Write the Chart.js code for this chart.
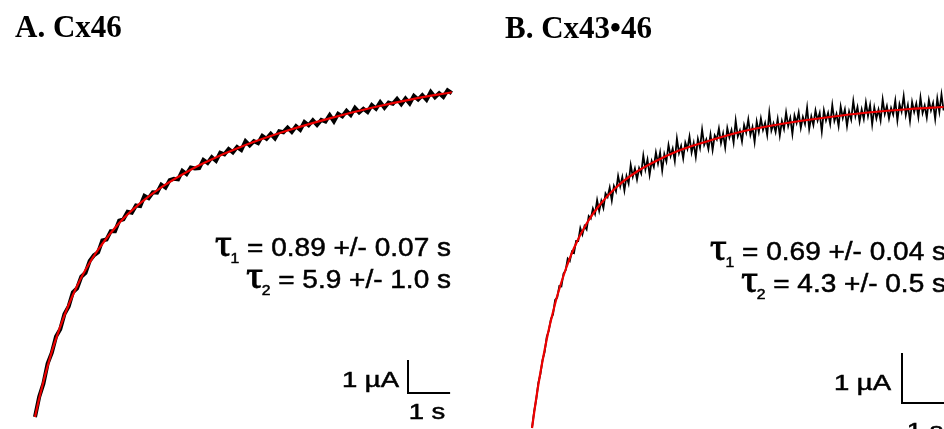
<!DOCTYPE html>
<html>
<head>
<meta charset="utf-8">
<script src="https://cdn.jsdelivr.net/npm/chart.js@4.4.0/dist/chart.umd.min.js"></script>
<style>
    html, body { margin: 0; padding: 0; background: #fff; }
    #wrap { position: relative; width: 944px; height: 429px; overflow: hidden; }
    .panel { position: absolute; top: 0; width: 472px; height: 429px; }
    #panelA { left: 0; }
    #panelB { left: 472px; }
</style>
</head>
<body>
<div id="wrap">
    <div class="panel" id="panelA"><canvas id="chartA"></canvas></div>
    <div class="panel" id="panelB"><canvas id="chartB"></canvas></div>
</div>
<script>
// Panel A (Cx46): recorded current (µA) vs time (s)
const timeA = [0, 0.1, 0.2, 0.3, 0.4, 0.5, 0.6, 0.7, 0.8, 0.9,
    1, 1.1, 1.2, 1.3, 1.4, 1.5, 1.6, 1.7, 1.8, 1.9,
    2, 2.1, 2.2, 2.3, 2.4, 2.5, 2.6, 2.7, 2.8, 2.9,
    3, 3.1, 3.2, 3.3, 3.4, 3.5, 3.6, 3.7, 3.8, 3.9,
    4, 4.1, 4.2, 4.3, 4.4, 4.5, 4.6, 4.7, 4.8, 4.9,
    5, 5.1, 5.2, 5.3, 5.4, 5.5, 5.6, 5.7, 5.8, 5.9,
    6, 6.1, 6.2, 6.3, 6.4, 6.5, 6.6, 6.7, 6.8, 6.9,
    7, 7.1, 7.2, 7.3, 7.4, 7.5, 7.6, 7.7, 7.8, 7.9,
    8, 8.1, 8.2, 8.3, 8.4, 8.5, 8.6, 8.7, 8.8, 8.9,
    9, 9.1, 9.2, 9.3, 9.4, 9.5, 9.6, 9.7, 9.8, 9.9];
const traceA = [0.00, 0.61, 1.01, 1.62, 1.95, 2.44, 2.66, 3.12, 3.35, 3.78,
    3.90, 4.25, 4.37, 4.73, 4.90, 4.99, 5.35, 5.38, 5.63, 5.63,
    5.95, 5.99, 6.22, 6.19, 6.41, 6.39, 6.70, 6.63, 6.81, 6.80,
    7.04, 6.95, 7.18, 7.22, 7.20, 7.46, 7.36, 7.56, 7.53, 7.54,
    7.79, 7.70, 7.87, 7.76, 8.01, 7.96, 8.12, 8.02, 8.18, 8.09,
    8.36, 8.23, 8.36, 8.30, 8.52, 8.43, 8.58, 8.44, 8.66, 8.63,
    8.77, 8.64, 8.81, 8.70, 8.94, 8.84, 8.99, 8.85, 9.00, 8.95,
    9.15, 8.96, 9.19, 9.11, 9.28, 9.15, 9.37, 9.23, 9.34, 9.24,
    9.45, 9.34, 9.54, 9.37, 9.53, 9.49, 9.64, 9.48, 9.65, 9.50,
    9.73, 9.62, 9.75, 9.61, 9.85, 9.69, 9.81, 9.70, 9.90, 9.81];
// red two-exponential fit, read at a few times
const fitTimeA = [0, 0.1, 0.2, 0.3, 0.4, 0.5, 0.6, 0.8, 1, 1.2, 1.5, 2, 2.5, 3, 3.5, 4, 5, 6, 7, 8, 9, 9.9];
const fitA = [0, 0.56, 1.07, 1.54, 1.98, 2.37, 2.74, 3.40, 3.97, 4.46, 5.07, 5.88, 6.48, 6.96, 7.35, 7.69, 8.24, 8.68, 9.05, 9.37, 9.64, 9.84];
const tauA = ['0.89 +/- 0.07 s', '5.9 +/- 1.0 s'];

// Panel B (Cx43•46)
const timeB = [0, 0.05, 0.1, 0.15, 0.2, 0.25, 0.3, 0.35, 0.4, 0.45,
    0.5, 0.55, 0.6, 0.65, 0.7, 0.75, 0.8, 0.85, 0.9, 0.95,
    1, 1.05, 1.1, 1.15, 1.2, 1.25, 1.3, 1.35, 1.4, 1.45,
    1.5, 1.55, 1.6, 1.65, 1.7, 1.75, 1.8, 1.85, 1.9, 1.95,
    2, 2.05, 2.1, 2.15, 2.2, 2.25, 2.3, 2.35, 2.4, 2.45,
    2.5, 2.55, 2.6, 2.65, 2.7, 2.75, 2.8, 2.85, 2.9, 2.95,
    3, 3.05, 3.1, 3.15, 3.2, 3.25, 3.3, 3.35, 3.4, 3.45,
    3.5, 3.55, 3.6, 3.65, 3.7, 3.75, 3.8, 3.85, 3.9, 3.95,
    4, 4.05, 4.1, 4.15, 4.2, 4.25, 4.3, 4.35, 4.4, 4.45,
    4.5, 4.55, 4.6, 4.65, 4.7, 4.75, 4.8, 4.85, 4.9, 4.95,
    5, 5.05, 5.1, 5.15, 5.2, 5.25, 5.3, 5.35, 5.4, 5.45,
    5.5, 5.55, 5.6, 5.65, 5.7, 5.75, 5.8, 5.85, 5.9, 5.95,
    6, 6.05, 6.1, 6.15, 6.2, 6.25, 6.3, 6.35, 6.4, 6.45,
    6.5, 6.55, 6.6, 6.65, 6.7, 6.75, 6.8, 6.85, 6.9, 6.95,
    7, 7.05, 7.1, 7.15, 7.2, 7.25, 7.3, 7.35, 7.4, 7.45,
    7.5, 7.55, 7.6, 7.65, 7.7, 7.75, 7.8, 7.85, 7.9, 7.95,
    8, 8.05, 8.1, 8.15, 8.2, 8.25, 8.3, 8.35, 8.4, 8.45,
    8.5, 8.55, 8.6, 8.65, 8.7, 8.75, 8.8, 8.85, 8.9, 8.95,
    9, 9.05, 9.1, 9.15, 9.2, 9.25, 9.3, 9.35, 9.4, 9.45,
    9.5, 9.55, 9.6, 9.65, 9.7, 9.75, 9.8];
const traceB = [0.00, 0.33, 0.57, 0.90, 1.08, 1.36, 1.52, 1.82, 1.95, 2.18,
    2.27, 2.56, 2.61, 2.84, 2.83, 3.09, 3.15, 3.39, 3.34, 3.53,
    3.50, 3.74, 3.74, 4.00, 3.87, 4.04, 3.97, 4.24, 4.19, 4.39,
    4.28, 4.56, 4.34, 4.54, 4.40, 4.69, 4.62, 4.81, 4.55, 4.84,
    4.73, 5.04, 4.83, 5.02, 4.75, 5.04, 4.89, 5.26, 5.03, 5.19,
    4.97, 5.20, 5.09, 5.45, 5.17, 5.37, 5.06, 5.34, 5.22, 5.51,
    5.29, 5.51, 5.15, 5.48, 5.33, 5.66, 5.44, 5.59, 5.34, 5.79,
    5.50, 5.64, 5.39, 5.71, 5.58, 5.83, 5.51, 5.70, 5.42, 5.78,
    5.60, 5.97, 5.66, 5.77, 5.58, 5.87, 5.56, 5.85, 5.77, 5.99,
    5.70, 5.89, 5.61, 6.00, 5.81, 5.96, 5.71, 6.15, 5.83, 5.95,
    5.73, 6.06, 5.91, 6.17, 5.86, 6.02, 5.72, 6.13, 5.92, 6.19,
    5.96, 6.10, 5.86, 6.31, 5.95, 6.09, 5.92, 6.18, 5.85, 6.14,
    5.98, 6.31, 6.04, 6.20, 5.88, 6.25, 6.10, 6.31, 6.00, 6.22,
    6.08, 6.41, 5.98, 6.23, 6.06, 6.35, 6.15, 6.30, 5.93, 6.35,
    6.15, 6.30, 6.08, 6.46, 6.14, 6.28, 6.04, 6.43, 6.20, 6.37,
    6.04, 6.33, 6.17, 6.54, 6.24, 6.42, 6.13, 6.37, 6.18, 6.51,
    6.24, 6.46, 6.07, 6.41, 6.19, 6.37, 6.15, 6.57, 6.28, 6.44,
    6.19, 6.40, 6.27, 6.55, 6.15, 6.48, 6.33, 6.64, 6.26, 6.46,
    6.14, 6.52, 6.32, 6.49, 6.22, 6.61, 6.30, 6.45, 6.21, 6.56,
    6.35, 6.50, 6.18, 6.59, 6.32, 6.67, 6.35];
const fitTimeB = [0, 0.05, 0.1, 0.15, 0.2, 0.3, 0.4, 0.5, 0.6, 0.8, 1, 1.3, 1.6, 2, 2.5, 3, 3.5, 4, 5, 6, 7, 8, 9, 9.8];
const fitB = [0, 0.30, 0.59, 0.86, 1.11, 1.56, 1.97, 2.32, 2.64, 3.17, 3.60, 4.09, 4.45, 4.81, 5.13, 5.36, 5.55, 5.69, 5.93, 6.09, 6.21, 6.31, 6.38, 6.42];
const tauB = ['0.69 +/- 0.04 s', '4.3 +/- 0.5 s'];

const RED = '#ee0000';

function zip(xs, ys) {
    return xs.map((x, i) => ({x: x, y: ys[i]}));
}

// fill plus a hairline stroke, the scanned labels look a bit heavy
function heavyText(ctx, text, x, y) {
    ctx.fillText(text, x, y);
    ctx.strokeText(text, x, y);
}

// text stretched horizontally, like in the original figure
function drawStretched(ctx, text, x, y, align, font, sx) {
    ctx.save();
    ctx.translate(x, y);
    ctx.scale(sx, 1);
    ctx.font = font;
    ctx.textAlign = align;
    heavyText(ctx, text, 0, 0);
    ctx.restore();
}

// "τn = value" right aligned at xRight, baseline y
function drawTau(ctx, xRight, y, sub, rest) {
    ctx.save();
    ctx.translate(xRight, y);
    ctx.scale(1.12, 1);
    ctx.textAlign = 'right';
    ctx.font = '25px "Liberation Sans"';
    const line = '= ' + rest;
    const w = ctx.measureText(line).width;
    heavyText(ctx, line, 0, 0);
    ctx.font = '14px "Liberation Sans"';
    const subX = -w - 7;
    heavyText(ctx, sub, subX, 7);
    const sw = ctx.measureText(sub).width;
    ctx.font = '37px "Liberation Serif"';
    ctx.lineWidth = 0.9;
    heavyText(ctx, 'τ', subX - sw + 1, 0);
    ctx.restore();
}

const panelText = {
    id: 'panelText',
    afterDatasetsDraw(chart, args, o) {
        const ctx = chart.ctx;
        ctx.save();
        ctx.fillStyle = '#000';
        ctx.strokeStyle = '#000';
        ctx.lineWidth = 0.5;
        ctx.textBaseline = 'alphabetic';
        ctx.textAlign = 'left';
        ctx.font = 'bold 31px "Liberation Serif"';
        ctx.fillText(o.title, o.titleX, o.titleY);
        o.taus.forEach((t, i) => drawTau(ctx, o.tauRight, o.tauY[i], String(i + 1), t));
        drawStretched(ctx, '1 µA', o.ampX, o.ampY, 'right', '22px "Liberation Sans"', 1.25);
        drawStretched(ctx, '1 s', o.secX, o.secY, 'center', '22px "Liberation Sans"', 1.25);
        ctx.restore();
    }
};

function makePanel(id, p) {
    return new Chart(document.getElementById(id), {
        type: 'line',
        data: {
            datasets: [
                {
                    label: 'fit',
                    data: zip(p.fitT, p.fitI),
                    borderColor: RED,
                    borderWidth: 2.2,
                    cubicInterpolationMode: 'monotone',
                    pointRadius: 0,
                    order: 0
                },
                {
                    label: 'trace',
                    data: zip(p.traceT, p.traceI),
                    borderColor: '#000',
                    borderWidth: p.traceWidth,
                    tension: 0,
                    pointRadius: 0,
                    order: 1
                },
                {
                    label: 'scale bar',
                    data: zip(p.barT, p.barI),
                    borderColor: '#000',
                    borderWidth: 2,
                    tension: 0,
                    pointRadius: 0,
                    order: 2
                }
            ]
        },
        options: {
            responsive: true,
            maintainAspectRatio: false,
            animation: false,
            events: [],
            layout: {padding: 0},
            plugins: {
                legend: {display: false},
                tooltip: {enabled: false},
                panelText: p.text
            },
            scales: {
                x: {type: 'linear', display: false, min: p.xMin, max: p.xMax},
                y: {type: 'linear', display: false, min: p.yMin, max: p.yMax}
            }
        },
        plugins: [panelText]
    });
}

// Panel A: 1 s = 42.1 px, 1 µA = 33 px
makePanel('chartA', {
    traceT: timeA, traceI: traceA, fitT: fitTimeA, fitI: fitA, traceWidth: 4,
    barT: [8.86, 8.86, 9.86], barI: [1.73, 0.73, 0.73],
    xMin: -0.831, xMax: 10.380, yMin: -0.364, yMax: 12.636,
    text: {
        title: 'A. Cx46', titleX: 15, titleY: 37,
        taus: tauA, tauRight: 451, tauY: [256, 288],
        ampX: 399, ampY: 387, secX: 427, secY: 419
    }
});

// Panel B: 1 s = 42 px, 1 µA = 50 px
makePanel('chartB', {
    traceT: timeB, traceI: traceB, fitT: fitTimeB, fitI: fitB, traceWidth: 1.8,
    barT: [8.81, 8.81, 9.81], barI: [1.5, 0.5, 0.5],
    xMin: -1.429, xMax: 9.810, yMin: -0.02, yMax: 8.56,
    text: {
        title: 'B. Cx43•46', titleX: 33, titleY: 38,
        taus: tauB, tauRight: 474, tauY: [260, 292],
        ampX: 419, ampY: 390, secX: 453, secY: 438
    }
});
</script>
</body>
</html>
